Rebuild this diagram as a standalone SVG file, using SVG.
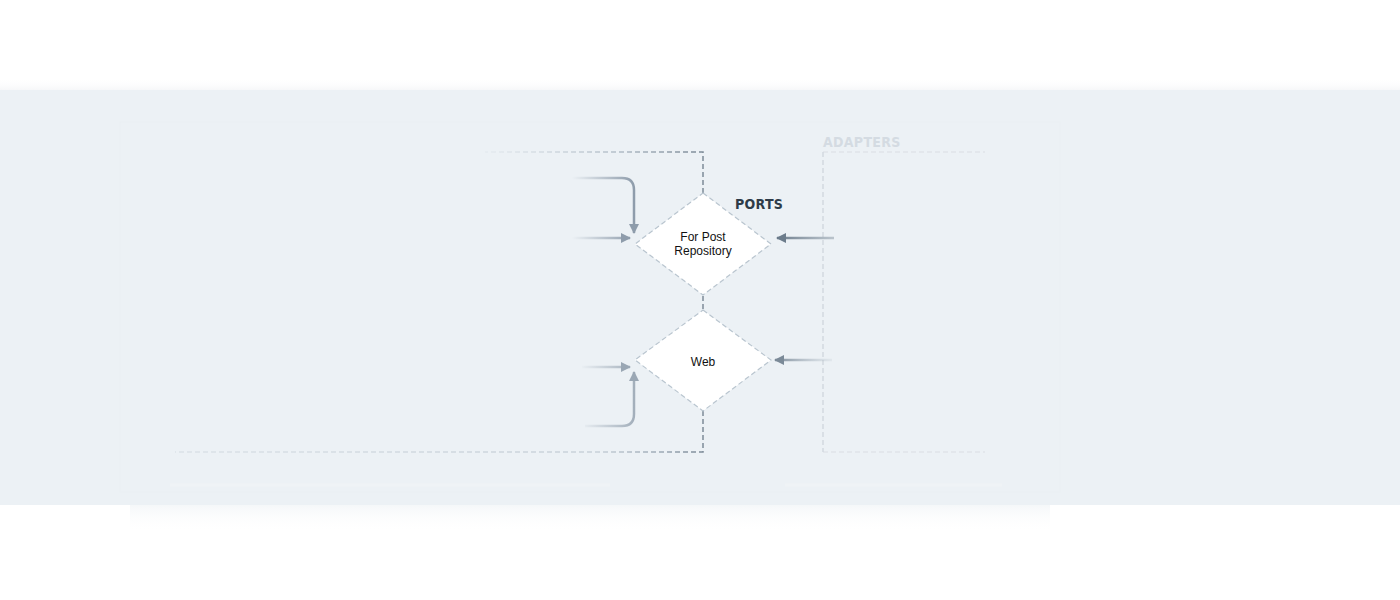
<svg xmlns="http://www.w3.org/2000/svg" width="1400" height="600" viewBox="0 0 1400 600">
  <defs>
    <style>
      .port { fill: #ffffff; stroke: #b9c5cf; stroke-width: 1.2; stroke-dasharray: 5 3; }
      .lbl { font-family: 'Liberation Sans', Arial, sans-serif; font-size: 12px; fill: #111111; text-anchor: middle; }
      .title { font-family: 'DejaVu Sans Condensed', 'Liberation Sans Narrow', 'Liberation Sans', sans-serif; font-weight: bold; font-size: 14px; letter-spacing: 0.3px; }
      .dash { fill: none; stroke-width: 1.5; stroke-dasharray: 5 3; }
      .arr { fill: none; stroke-width: 2.5; }
    </style>
    <linearGradient id="gTop" gradientUnits="userSpaceOnUse" x1="485" y1="0" x2="703" y2="0">
      <stop offset="0" stop-color="#c9d2da" stop-opacity="0.2"/>
      <stop offset="0.6" stop-color="#b4bfc9"/>
      <stop offset="1" stop-color="#7d8b98"/>
    </linearGradient>
    <linearGradient id="gBot" gradientUnits="userSpaceOnUse" x1="175" y1="0" x2="703" y2="0">
      <stop offset="0" stop-color="#d0d8df" stop-opacity="0.6"/>
      <stop offset="0.8" stop-color="#c8d1d9"/>
      <stop offset="0.93" stop-color="#9aa7b3"/>
      <stop offset="1" stop-color="#7d8b98"/>
    </linearGradient>
    <linearGradient id="gL1" gradientUnits="userSpaceOnUse" x1="572" y1="0" x2="634" y2="0">
      <stop offset="0" stop-color="#8e9cab" stop-opacity="0"/>
      <stop offset="1" stop-color="#8e9cab"/>
    </linearGradient>
    <linearGradient id="gL2" gradientUnits="userSpaceOnUse" x1="580" y1="0" x2="634" y2="0">
      <stop offset="0" stop-color="#a3afbb" stop-opacity="0"/>
      <stop offset="1" stop-color="#a3afbb"/>
    </linearGradient>
    <linearGradient id="gR1" gradientUnits="userSpaceOnUse" x1="777" y1="0" x2="834" y2="0">
      <stop offset="0" stop-color="#6c7c8b"/>
      <stop offset="1" stop-color="#8896a3" stop-opacity="0.5"/>
    </linearGradient>
    <linearGradient id="gR2" gradientUnits="userSpaceOnUse" x1="775" y1="0" x2="832" y2="0">
      <stop offset="0" stop-color="#7b8a98"/>
      <stop offset="1" stop-color="#b5c0ca" stop-opacity="0.2"/>
    </linearGradient>
    <linearGradient id="gShadow" x1="0" y1="0" x2="0" y2="1">
      <stop offset="0" stop-color="#eef2f5" stop-opacity="0.6"/>
      <stop offset="1" stop-color="#ffffff" stop-opacity="0"/>
    </linearGradient>
    <linearGradient id="gShadowTop" x1="0" y1="1" x2="0" y2="0">
      <stop offset="0" stop-color="#f6f7f9" stop-opacity="1"/>
      <stop offset="1" stop-color="#ffffff" stop-opacity="0"/>
    </linearGradient>
    <marker id="headL" viewBox="0 0 10 10" refX="9" refY="5" markerWidth="4" markerHeight="4" orient="auto" markerUnits="strokeWidth">
      <path d="M0,0 L10,5 L0,10 z" fill="#8e9cab"/>
    </marker>
    <marker id="headL2" viewBox="0 0 10 10" refX="9" refY="5" markerWidth="4" markerHeight="4" orient="auto" markerUnits="strokeWidth">
      <path d="M0,0 L10,5 L0,10 z" fill="#9aa7b4"/>
    </marker>
    <marker id="headR1" viewBox="0 0 10 10" refX="9" refY="5" markerWidth="4" markerHeight="4" orient="auto" markerUnits="strokeWidth">
      <path d="M0,0 L10,5 L0,10 z" fill="#6c7c8b"/>
    </marker>
    <marker id="headR2" viewBox="0 0 10 10" refX="9" refY="5" markerWidth="4" markerHeight="4" orient="auto" markerUnits="strokeWidth">
      <path d="M0,0 L10,5 L0,10 z" fill="#7b8a98"/>
    </marker>
  </defs>

  <rect width="1400" height="600" fill="#ffffff"/>
  <rect x="0" y="78" width="1400" height="12" fill="url(#gShadowTop)"/>
  <rect x="0" y="90" width="1400" height="415" fill="#ecf1f5"/>
  <rect x="130" y="505" width="920" height="28" fill="url(#gShadow)"/>

  <!-- faint background ghost lines -->
  <g id="ghosts" fill="none">
    <line x1="170" y1="485" x2="610" y2="485" stroke="#eff3f6" stroke-width="3"/>
    <line x1="785" y1="485" x2="1002" y2="485" stroke="#eff3f6" stroke-width="3"/>
    <rect x="120" y="122" width="940" height="370" stroke="#e7ecf0" stroke-width="1" opacity="0.3"/>
  </g>

  <!-- adapters region -->
  <g id="adapters">
    <path d="M823,152 H985 M823,452 H985" class="dash" stroke="#dfe4e9" stroke-width="1"/>
    <path d="M823,152 V452" class="dash" stroke="#d2d9e0" stroke-width="1.2"/>
    <text x="823" y="147" class="title" fill="#d4dbe2">ADAPTERS</text>
  </g>

  <text id="ports-label" x="735" y="209" class="title" fill="#2e3b48">PORTS</text>

  <g id="connectors">
    <path d="M703,193 V152 H485" class="dash" stroke="url(#gTop)"/>
    <path d="M703,296 V310" class="dash" stroke="#7d8b98"/>
    <path d="M703,411 V452 H175" class="dash" stroke="url(#gBot)"/>
    <path d="M572,178 H622 Q634,178 634,190 V233" class="arr" stroke="url(#gL1)" marker-end="url(#headL)"/>
    <path d="M572,238 H630" class="arr" stroke="url(#gL1)" marker-end="url(#headL)"/>
    <path d="M582,367 H630" class="arr" stroke="url(#gL2)" marker-end="url(#headL2)"/>
    <path d="M585,426 H622 Q634,426 634,414 V372" class="arr" stroke="url(#gL2)" marker-end="url(#headL2)"/>
    <path d="M834,238 H777" class="arr" stroke="url(#gR1)" marker-end="url(#headR1)"/>
    <path d="M832,360 H775" class="arr" stroke="url(#gR2)" marker-end="url(#headR2)"/>
  </g>

  <g id="port-post-repository">
    <polygon class="port" points="703,193 771,244 703,295 635,244"/>
    <text class="lbl" x="703" y="241">For Post</text>
    <text class="lbl" x="703" y="255">Repository</text>
  </g>

  <g id="port-web">
    <polygon class="port" points="703,310 771,360 703,411 635,360"/>
    <text class="lbl" x="703" y="366">Web</text>
  </g>
</svg>
